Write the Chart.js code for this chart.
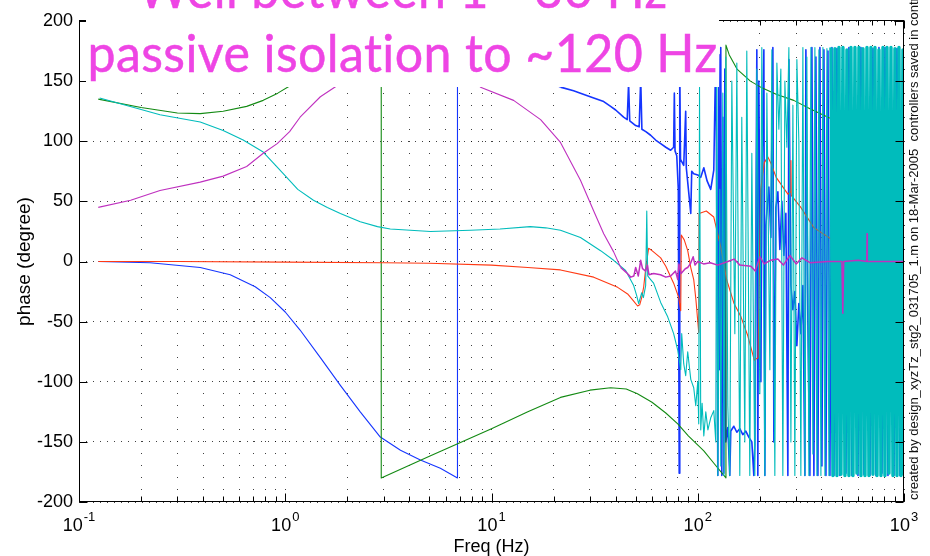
<!DOCTYPE html>
<html>
<head>
<meta charset="utf-8">
<script src="https://cdn.jsdelivr.net/npm/chart.js"></script>
<style>
  html, body { margin: 0; padding: 0; background: #fff; }
  #c { display: block; }
</style>
</head>
<body>
<canvas id="c" width="930" height="556"></canvas>
<script>
// ---- data: [frequency (Hz), phase (degree)] ----
const blueData = [
  [0.124,0],[0.221,-1],[0.387,-5],[0.541,-11],[0.715,-21],[0.846,-30],[1.0,-42],[1.18,-57],[1.48,-80],[1.85,-103],[2.31,-125],[2.89,-146],[3.62,-157],[4.52,-165],[5.65,-172],[6.84,-180],[6.84,180],[9,172],[12,163],[16,154],
  [21.6,145],[25,142],[27,140],[31.3,136],[35,133],[37.8,129],[40,126],[43.7,120],[45.5,118],[46.2,148],[46.8,117],[50,113],[52,112],[52.9,152],[53.6,110],[56,108],[59.1,105],[62.5,101],[66.1,98],[70,95],[73.9,92.5],[76.4,95],[77,140],[77.6,92],[79.1,88],[80.5,60],[81.3,-176],[81.8,165],[82.5,85],[85.5,80],[87.4,125],[88,78],[92.5,40],[93.5,75],[95.6,73],[100,72],[103.4,70],[107,78],[111,67],[115.6,60],
  [119.6,76],[122.3,176],[123.7,40],[125.1,-178],[126.5,172],[127.9,-90],[129.3,178],[130.8,-178],[132.3,120],[133.8,-176],[135.3,160],[136.8,-150],[139.9,-138],[143.0,-178],[144.6,-141],[149.6,-137],[154.7,-142],[159.9,-139],[165.4,-144],[171.0,-141],[176.8,-146],[182.9,-150],[187.0,-178],[189.1,-152],[193.4,176],[195.6,-178],[197.8,150],[202.3,-100],[204.5,60],[209.2,176],[211.5,-178],[213.9,30],[221.2,62],[226.2,20],[231.3,178],[233.9,-150],[239.2,45],[244.6,58],[250.1,10],[255.8,50],[261.6,5],[267.5,40],[273.5,-178],[276.6,168],[282.9,-20],[289.3,-40],[295.7,-25],[302.4,-70],[309.2,-35],[316.2,-60],[323.4,-20],[330.7,-178],[334.4,176],[341.9,-50],[349.7,-178],[357.6,178],[365.7,-178],[374.0,170],[382.4,-178],[391.1,178],[399.9,-170],[409.0,176],[418.3,-178],[427.8,175],[437.4,-178],[447.3,178],[457.4,-178],[473.0,177],[489.1,-178],[505.8,178],[523.0,-176],[540.8,178],[559.3,-178],[578.4,176],[598.1,-178],[618.4,178],[639.5,-177],[661.3,178],[683.8,-178],[707.1,177],[731.2,-178],[756.1,178],[781.9,-176],[808.5,178],[836.1,-178],[864.6,178],[894.0,-178],[924.5,177],[956.0,-178],[1000,170]
];
const greenData = [
  [0.124,135],[0.2,128],[0.3,123.5],[0.387,123],[0.5,125],[0.65,129],[0.782,134],[0.92,140],[1.05,146],[1.5,160],[2.0,170],[2.5,176],[2.92,180],[2.92,-180],[5,-162],[10,-139],[15,-125],[21.6,-113],[30,-107],[37.8,-105],[45,-106],[51,-110],[60,-117],[70,-126],[80,-135],[90,-145],[107,-157.5],[120,-168],[137,-180],[137,180],[142,172],[155,160],[180,150],[202,145],[240,139],[292,134],[350,127],[428,120],[500,115],[598,109],[700,105],[850,100],[1000,96]
];
const redData = [
  [0.124,0],[0.3,0],[1,-0.5],[3,-1],[5,-1.5],[10,-3],[15,-5],[21.6,-7],[31.3,-13],[40.9,-21.5],[45.7,-27],[48.9,-33],[51.1,-37],[52.3,-36],[53.5,-30],[54.7,-21],[56,-5],[57.8,11],[60,9],[66.1,3],[70,-4],[76.4,-18],[80.9,-30],[82.7,-41],[83.2,22],[86,18],[89.4,9],[92.5,-5],[95.6,-15],[98,-32],[101.1,-59],[101.5,40],[110,42],[119.6,37],[129.3,12],[138,-15],[150,-35],[162,-46],[175,-62],[188,-82],[196,-80],[202,60],[210,82],[218.7,87],[226,82],[240,70],[273.5,56],[282,58],[283,84],[284,55],[316,45],[366,28],[458,17],[572,12],[692,7.5],[850,4],[1000,2]
];
const cyanData = [
  [0.126,136],[0.247,122],[0.387,116],[0.50,109],[0.625,101],[0.782,91],[0.978,73],[1.15,60],[1.37,51],[1.6,45],[1.85,40],[2.31,33],[2.8,29],[3.23,27],[5.06,25],[7.91,26],[11.0,27],[15.4,29],[18.3,28],[21.6,26],[27.0,20],[33.8,9],[39.1,1],[44.7,-7.5],[48.9,-20],[50.5,-28],[51.7,-35],[53.5,-26],[54.5,-30],[55.9,-20],[56.6,42],[57.2,-12],[59.1,-15],[61.1,-18],[66.1,-34],[71.5,-46],[76.4,-60],[80.0,-74],[82.7,-90],[83.6,-60],[85.5,-85],[87.4,-95],[89.4,-75],[92.5,-98],[95.6,-105],[97.8,-120],[100,-100],[101.1,-135],[102,145],[103.4,-140],[105,-118],[107,-145],[109.4,-125],[112,-140],[115.6,-130],[119.6,-124],
  [122.3,-150],[123.7,175],[125.1,-178],[127.9,60],[129.3,-170],[132.3,140],[133.8,-178],[136.8,170],[139.9,-120],[143.0,-178],[146.3,150],[151.3,-60],[154.7,165],[159.9,-178],[163.5,120],[169.1,-150],[172.9,175],[178.8,-178],[182.9,90],[189.1,-178],[193.4,160],[200.0,-110],[204.5,178],[211.5,-178],[216.3,140],[223.7,-90],[228.7,176],[236.5,-178],[241.9,165],[247.3,110],[252.9,160],[258.6,-178],[264.5,150],[270.5,95],[276.6,178],[282.9,-150],[289.3,130],[295.7,-178],[302.4,168],[309.2,100],[316.2,-178],[323.4,178],[330.7,-178],[338.1,170],[345.8,-178],[353.6,178],[361.6,-160],[369.8,178],[378.2,-178],[386.7,176],[395.5,-178],[404.5,178],[413.6,-178],[423.0,177],[432.5,-178],
  [442.3,178],[452.3,-178],[462.5,177],[473.0,-178],[483.7,178],[494.6,-177],[505.8,178],[517.2,-178],[528.9,176],[540.8,-178],[553.1,178],[565.6,-178],[578.4,178],[591.4,-176],[604.8,178],[618.4,-178],[632.4,177],[646.7,-178],[661.3,178],[676.2,-178],[691.5,178],[707.1,-177],[723.1,178],[739.4,-178],[756.1,176],[773.2,-178],[790.7,178],[808.5,-178],[826.8,178],[845.5,-176],[864.6,178],[884.1,-178],[904.1,177],[924.5,-178],[945.4,178],[966.7,-178],[988.5,176],[1000,-178]
];
const magentaData = [
  [0.124,45],[0.178,51],[0.247,59],[0.387,66],[0.50,71],[0.65,79],[0.782,90],[0.914,98],[1.05,108],[1.18,120],[1.48,137],[1.85,148],[2.5,158],[3.5,165],[5,166],[6.5,160],[8.85,145],[12.8,134],[17.3,118],[21.6,99],[27,67.5],[31.3,42],[35,23],[39.1,8],[42.3,-5],[45,-9],[47.3,-13],[49,-12],[50,-5],[51.5,-12],[52.9,1],[54,-6],[55.9,-8],[57,-3],[58,-11],[61.1,-10],[66,-11],[70,-13],[73.9,-12],[78,-8],[80,-15],[81,-2],[83,-10],[87,-6],[89.4,-5],[92,-2],[95,4],[97,-3],[100,0],[106.7,-2],[115,-1],[125,-3],[139.9,0],[150,2],[160,-3],[181,-4],[190,-8],[200,4],[210,-2],[225,1],[244.6,2],[260,-3],[280,5],[300,-2],[320,3],[350,-1],[428,0],[500,0],[505,-43],[510,0],[600,1],[660,0],[662,23],[664,0],[800,0],[1000,0]
];

// ---- axes / text ----
const decadeExponents = ['-1', '0', '1', '2', '3'];
const xTickValues = [];
for (let e = -1; e <= 2; e++) {
  for (let m = 1; m <= 9; m++) xTickValues.push(Number((m * Math.pow(10, e)).toPrecision(6)));
}
xTickValues.push(1000);
const yMin = -200, yMax = 200, yStep = 50;
const xTitle = 'Freq (Hz)';
const yTitle = 'phase (degree)';
const sideNote = 'created by design_xyzTz_stg2_031705_1.m on 18-Mar-2005  controllers saved in controllers_xyzTz_stg2_031705_1.mat';
const titleLines = ['Well between 1 - 30 Hz', 'passive isolation to ~120 Hz'];

const SANS = '"Liberation Sans", Arial, Helvetica, sans-serif';
const isDecade = v => Math.abs(Math.log10(v) - Math.round(Math.log10(v))) < 1e-9;

const decor = {
  id: 'decor',
  afterDatasetsDraw(chart) {
    const { ctx, chartArea: a, scales: { x, y } } = chart;
    const L = a.left + 0.5, R = a.right - 0.5, T = a.top - 0.5, B = a.bottom - 0.5;
    ctx.save();
    ctx.strokeStyle = '#000';
    ctx.lineWidth = 1;
    ctx.beginPath();
    xTickValues.forEach(v => {
      const px = Math.round(x.getPixelForValue(v)) + 0.5;
      const len = isDecade(v) ? 8 : 5;
      ctx.moveTo(px, B); ctx.lineTo(px, B - len);
      ctx.moveTo(px, T); ctx.lineTo(px, T + len);
    });
    y.ticks.forEach(t => {
      const py = Math.round(y.getPixelForValue(t.value)) + 0.5;
      ctx.moveTo(L, py); ctx.lineTo(L + 8, py);
      ctx.moveTo(R, py); ctx.lineTo(R - 8, py);
    });
    ctx.stroke();
    ctx.strokeRect(L, T, R - L, B - T);
    ctx.restore();
  },
  afterDraw(chart) {
    const { ctx, chartArea: a, scales: { x } } = chart;
    ctx.save();
    ctx.fillStyle = '#000';
    ctx.textBaseline = 'alphabetic';
    // decade labels 10^n
    decadeExponents.forEach(ex => {
      const px = x.getPixelForValue(Math.pow(10, Number(ex)));
      ctx.font = '18px ' + SANS;
      const w10 = ctx.measureText('10').width;
      ctx.font = '13px ' + SANS;
      const ws = ctx.measureText(ex).width;
      const left = px - (w10 + ws + 1) / 2;
      ctx.font = '18px ' + SANS;
      ctx.textAlign = 'left';
      ctx.fillText('10', left, 531);
      ctx.font = '13px ' + SANS;
      ctx.fillText(ex, left + w10 + 1, 521);
    });
    // axis titles
    ctx.font = '18px ' + SANS;
    ctx.textAlign = 'center';
    ctx.fillText(xTitle, (a.left + a.right) / 2, 552);
    ctx.save();
    ctx.font = '19px ' + SANS;
    ctx.translate(29.5, (a.top + a.bottom) / 2);
    ctx.rotate(-Math.PI / 2);
    ctx.fillText(yTitle, 0, 0);
    ctx.restore();
    // side note
    ctx.save();
    ctx.font = '13px ' + SANS;
    ctx.textAlign = 'left';
    ctx.fillStyle = '#111';
    ctx.translate(917.5, 500);
    ctx.rotate(-Math.PI / 2);
    ctx.fillText(sideNote, 0, 0);
    ctx.restore();
    // title box
    ctx.fillStyle = '#fff';
    ctx.fillRect(86, 0, 633, 87);
    ctx.fillStyle = '#ee45e4';
    ctx.strokeStyle = '#ee45e4';
    ctx.lineWidth = 0.5;
    ctx.font = '52px Lato, "Open Sans", sans-serif';
    if ('letterSpacing' in ctx) ctx.letterSpacing = '0.4px';
    ctx.textAlign = 'center';
    const w2 = ctx.measureText(titleLines[1]).width;
    const sx = 630 / w2;
    ctx.save();
    ctx.translate(402.5, 0);
    ctx.scale(sx, 1);
    ctx.fillText(titleLines[0], 0, 8);
    ctx.strokeText(titleLines[0], 0, 8);
    ctx.fillText(titleLines[1], 0, 72);
    ctx.strokeText(titleLines[1], 0, 72);
    ctx.restore();
    ctx.restore();
  }
};

const toXY = arr => arr.map(([f, p]) => ({ x: f, y: p }));
const lineSet = (data, color, order, wideFrom, wideWidth) => ({
  data: toXY(data),
  showLine: true,
  borderColor: color,
  borderWidth: 1.1,
  pointRadius: 0,
  borderJoinStyle: 'round',
  order,
  segment: {
    borderWidth: c => (wideFrom && data[c.p0DataIndex][0] >= wideFrom) ? wideWidth : 1.1
  }
});

new Chart(document.getElementById('c'), {
  type: 'scatter',
  data: {
    datasets: [
      lineSet(blueData, '#1535ff', 4, 20, 1.6),
      lineSet(greenData, '#138a13', 3),
      lineSet(redData, '#ff3a14', 2),
      lineSet(cyanData, '#00bcbc', 1, 440, 3.4),
      lineSet(magentaData, '#bf30bf', 0, 40, 1.5)
    ]
  },
  plugins: [decor],
  options: {
    responsive: false,
    animation: false,
    devicePixelRatio: 1,
    layout: { padding: { top: 21, right: 26, left: 0, bottom: 0 } },
    plugins: { legend: { display: false }, tooltip: { enabled: false } },
    scales: {
      x: {
        type: 'logarithmic',
        position: 'bottom',
        min: 0.1,
        max: 1000,
        afterBuildTicks: s => { s.ticks = xTickValues.map(v => ({ value: v, major: isDecade(v) })); },
        afterFit: s => { s.height = 54; },
        ticks: { display: false },
        grid: { color: 'rgba(0,0,0,0.75)', lineWidth: 1, drawTicks: false },
        border: { display: false, dash: [1, 11] }
      },
      y: {
        type: 'linear',
        min: yMin,
        max: yMax,
        afterFit: s => { s.width = 79; },
        ticks: {
          stepSize: yStep,
          color: '#000',
          padding: 6,
          font: { family: SANS, size: 18 },
          callback: v => String(v)
        },
        grid: { color: 'rgba(0,0,0,0.75)', lineWidth: 1, drawTicks: false },
        border: { display: false, dash: [1, 6] }
      }
    }
  }
});
</script>
</body>
</html>
